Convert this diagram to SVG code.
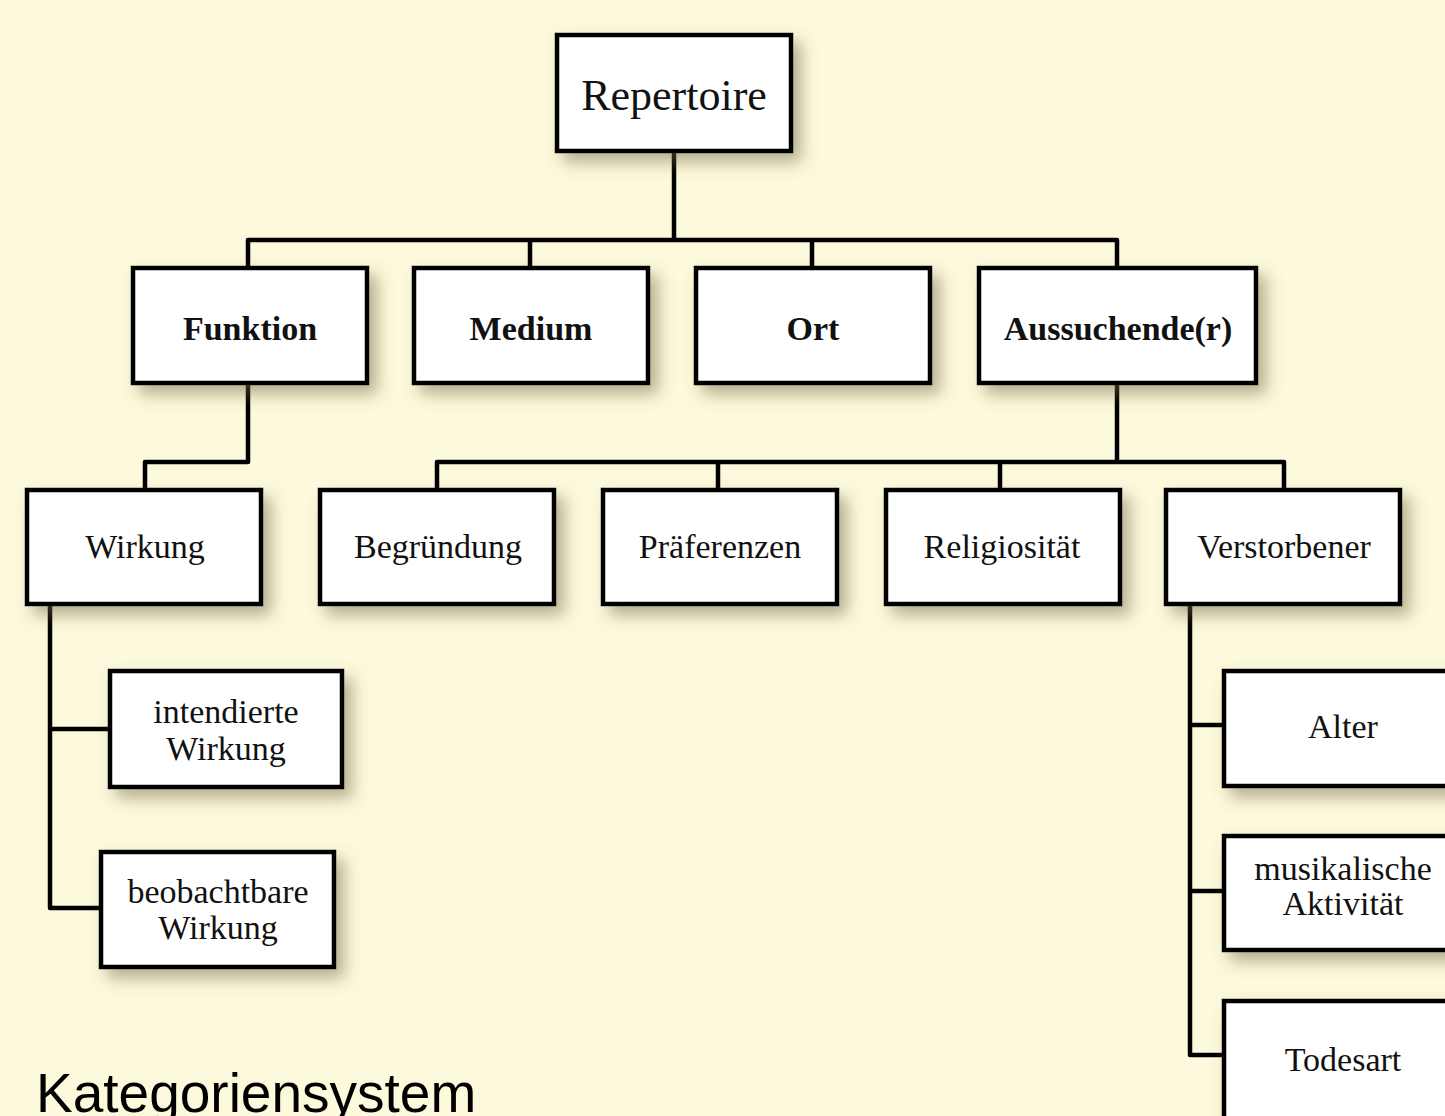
<svg xmlns="http://www.w3.org/2000/svg" width="1445" height="1116" viewBox="0 0 1445 1116">
<defs>
<filter id="sh" x="-20%" y="-20%" width="150%" height="160%">
<feDropShadow dx="8" dy="9" stdDeviation="8" flood-color="#6b6540" flood-opacity="0.5"/>
</filter>
<style>
.box{fill:#ffffff;stroke:#000;stroke-width:4.5;filter:url(#sh)}
.t{font-family:"Liberation Serif","Times New Roman",serif;font-size:34px;fill:#111;text-anchor:middle}
.b{font-weight:bold}
.c{fill:none;stroke:#000;stroke-width:4.5;stroke-linejoin:round}
</style>
</defs>
<rect width="1445" height="1116" fill="#fdf9dc"/>
<g id="connectors">
<path class="c" d="M674 151 V240 M248 268 V240 H1117 V268 M530 240 V268 M812 240 V268"/>
<path class="c" d="M248 383 V462 H145 V490"/>
<path class="c" d="M1117 383 V462 M437 490 V462 H1284 V490 M718 462 V490 M1000 462 V490"/>
<path class="c" d="M50 604 V908 H101 M50 729 H110"/>
<path class="c" d="M1190 604 V1055 H1224 M1190 725 H1224 M1190 891 H1224"/>
</g>
<g id="repertoire"><rect class="box" x="557" y="35" width="234" height="116"/><text class="t" x="674" y="110" style="font-size:44px">Repertoire</text></g>
<g id="funktion"><rect class="box" x="133" y="268" width="234" height="115"/><text class="t b" x="250" y="340">Funktion</text></g>
<g id="medium"><rect class="box" x="414" y="268" width="234" height="115"/><text class="t b" x="531" y="340">Medium</text></g>
<g id="ort"><rect class="box" x="696" y="268" width="234" height="115"/><text class="t b" x="813" y="340">Ort</text></g>
<g id="aussuchende"><rect class="box" x="979" y="268" width="277" height="115"/><text class="t b" x="1118" y="340">Aussuchende(r)</text></g>
<g id="wirkung"><rect class="box" x="27" y="490" width="234" height="114"/><text class="t" x="145" y="558">Wirkung</text></g>
<g id="begruendung"><rect class="box" x="320" y="490" width="234" height="114"/><text class="t" x="438" y="558">Begründung</text></g>
<g id="praeferenzen"><rect class="box" x="603" y="490" width="234" height="114"/><text class="t" x="720" y="558">Präferenzen</text></g>
<g id="religiositaet"><rect class="box" x="886" y="490" width="234" height="114"/><text class="t" x="1002" y="558">Religiosität</text></g>
<g id="verstorbener"><rect class="box" x="1166" y="490" width="234" height="114"/><text class="t" x="1284" y="558">Verstorbener</text></g>
<g id="intendierte"><rect class="box" x="110" y="671" width="232" height="116"/><text class="t" x="226" y="723">intendierte</text><text class="t" x="226" y="760">Wirkung</text></g>
<g id="beobachtbare"><rect class="box" x="101" y="852" width="233" height="115"/><text class="t" x="218" y="903">beobachtbare</text><text class="t" x="218" y="939">Wirkung</text></g>
<g id="alter"><rect class="box" x="1224" y="671" width="240" height="115"/><text class="t" x="1343" y="738">Alter</text></g>
<g id="musikalische"><rect class="box" x="1224" y="836" width="240" height="114"/><text class="t" x="1343" y="880">musikalische</text><text class="t" x="1343" y="915">Aktivität</text></g>
<g id="todesart"><rect class="box" x="1224" y="1001" width="240" height="125"/><text class="t" x="1343" y="1071">Todesart</text></g>
<text x="36" y="1112" style="font-family:'Liberation Sans',Arial,sans-serif;font-size:55px;fill:#000">Kategoriensystem</text>
</svg>
